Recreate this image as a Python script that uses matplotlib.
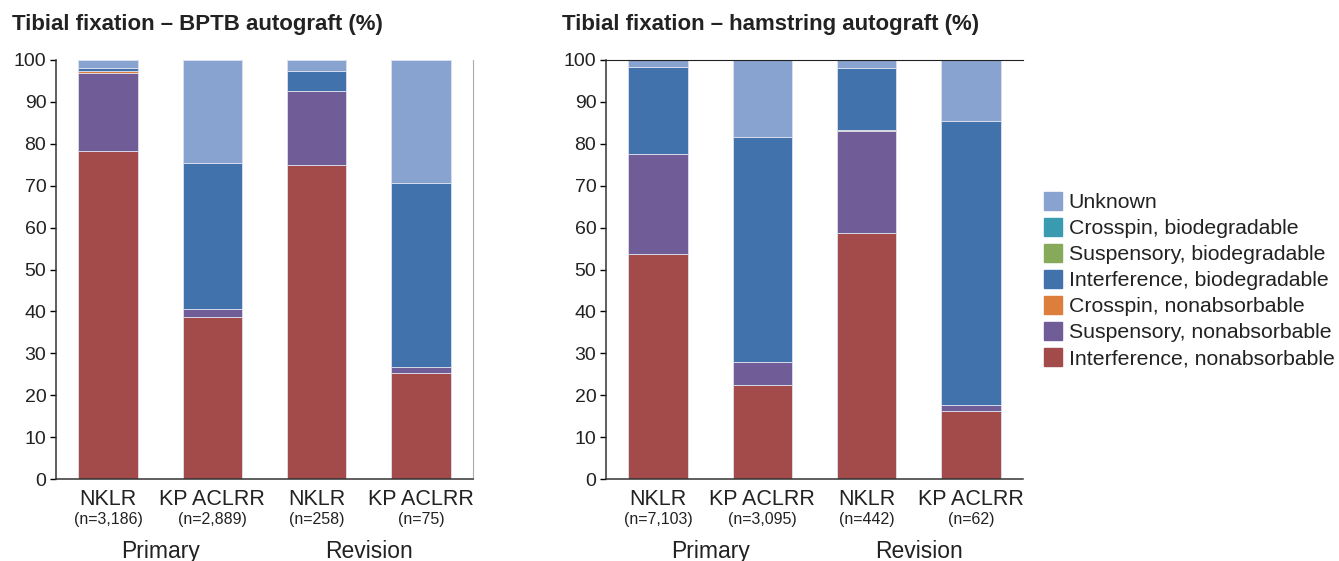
import numpy as np
import matplotlib
matplotlib.use('Agg')
import matplotlib.pyplot as plt
from matplotlib.lines import Line2D
from matplotlib.transforms import blended_transform_factory

plt.rcParams['font.family'] = ['Liberation Sans', 'DejaVu Sans']

# Categories and sample sizes
registries = ['NKLR', 'KP ACLRR', 'NKLR', 'KP ACLRR']
groups = ['Primary', 'Revision']
n_bptb = ['(n=3,186)', '(n=2,889)', '(n=258)', '(n=75)']
n_ham = ['(n=7,103)', '(n=3,095)', '(n=442)', '(n=62)']

series = ['Interference, nonabsorbable', 'Suspensory, nonabsorbable', 'Crosspin, nonabsorbable',
          'Interference, biodegradable', 'Suspensory, biodegradable', 'Crosspin, biodegradable',
          'Unknown']
colors = ['#a34a4b', '#705c97', '#dd7e3c', '#4272ab', '#86a95a', '#3a9ab0', '#88a3d0']

# BPTB autograft (%), segment sizes per bar
bptb_int_non = [78.2, 38.6, 74.9, 25.3]
bptb_sus_non = [18.8, 1.9, 17.6, 1.4]
bptb_cross_non = [0.4, 0.0, 0.0, 0.0]
bptb_int_bio = [0.8, 34.9, 4.8, 44.0]
bptb_sus_bio = [0.0, 0.0, 0.0, 0.0]
bptb_cross_bio = [0.0, 0.0, 0.0, 0.0]
bptb_unknown = [1.8, 24.6, 2.7, 29.3]

# Hamstring autograft (%)
ham_int_non = [53.7, 22.4, 58.8, 16.2]
ham_sus_non = [23.9, 5.6, 24.2, 1.4]
ham_cross_non = [0.0, 0.0, 0.3, 0.0]
ham_int_bio = [20.8, 53.7, 14.7, 67.8]
ham_sus_bio = [0.0, 0.0, 0.0, 0.0]
ham_cross_bio = [0.0, 0.0, 0.0, 0.0]
ham_unknown = [1.6, 18.3, 2.0, 14.6]

bptb = [bptb_int_non, bptb_sus_non, bptb_cross_non, bptb_int_bio, bptb_sus_bio, bptb_cross_bio, bptb_unknown]
ham = [ham_int_non, ham_sus_non, ham_cross_non, ham_int_bio, ham_sus_bio, ham_cross_bio, ham_unknown]

fig = plt.figure(figsize=(13.39, 5.61), dpi=100)
ax1 = fig.add_axes([56/1339, 82/561, 417/1339, 419/561])
ax2 = fig.add_axes([606/1339, 82/561, 417/1339, 419/561])


def draw(ax, data, ns, title):
    x = np.arange(len(registries))
    bottom = np.zeros(len(registries))
    for vals, col in zip(data, colors):
        vals = np.array(vals)
        ax.bar(x, vals, bottom=bottom, width=0.57, color=col, edgecolor='#dde1ee', linewidth=0.6)
        bottom += vals
    ax.set_xlim(-0.5, 3.5)
    ax.set_ylim(0, 100)
    ax.set_yticks(range(0, 101, 10))
    ax.tick_params(axis='y', labelsize=14, length=4, width=1, pad=3, labelcolor='#222222')
    ax.set_xticks(x)
    ax.set_xticklabels(registries, fontsize=15.5, color='#222222')
    ax.tick_params(axis='x', length=0, pad=7)
    for s in ['left', 'bottom']:
        ax.spines[s].set_linewidth(1.1)
        ax.spines[s].set_color('#333333')
    trans = blended_transform_factory(ax.transData, ax.transAxes)
    for xi, n in zip(x, ns):
        ax.text(xi, -0.097, n, transform=trans, ha='center', va='center', fontsize=11.5, color='#222222')
    for gi, g in enumerate(groups):
        ax.text(gi * 2 + 0.5, -0.188, g, transform=trans, ha='center', va='baseline', fontsize=16.5,
                color='#222222')
    ax.text(-0.105, 1.072, title, transform=ax.transAxes, ha='left', va='baseline', fontsize=16,
            fontweight='bold', color='#222222')


draw(ax1, bptb, n_bptb, 'Tibial fixation – BPTB autograft (%)')
ax1.spines['top'].set_visible(False)
ax1.spines['right'].set_color('#aaaaaa')

draw(ax2, ham, n_ham, 'Tibial fixation – hamstring autograft (%)')
ax2.spines['right'].set_visible(False)
ax2.spines['top'].set_color('#222222')

handles = [Line2D([0], [0], marker='s', linestyle='', markersize=12.5, markerfacecolor=c, markeredgecolor=c)
           for c in colors[::-1]]
leg = fig.legend(handles, series[::-1], loc='center left', bbox_to_anchor=(1023/1339, 0.5), frameon=False,
                 fontsize=15.3, handletextpad=0.25, labelspacing=0.33, handlelength=1.0)
for t in leg.get_texts():
    t.set_color('#222222')

fig.savefig('out.png', dpi=100)
